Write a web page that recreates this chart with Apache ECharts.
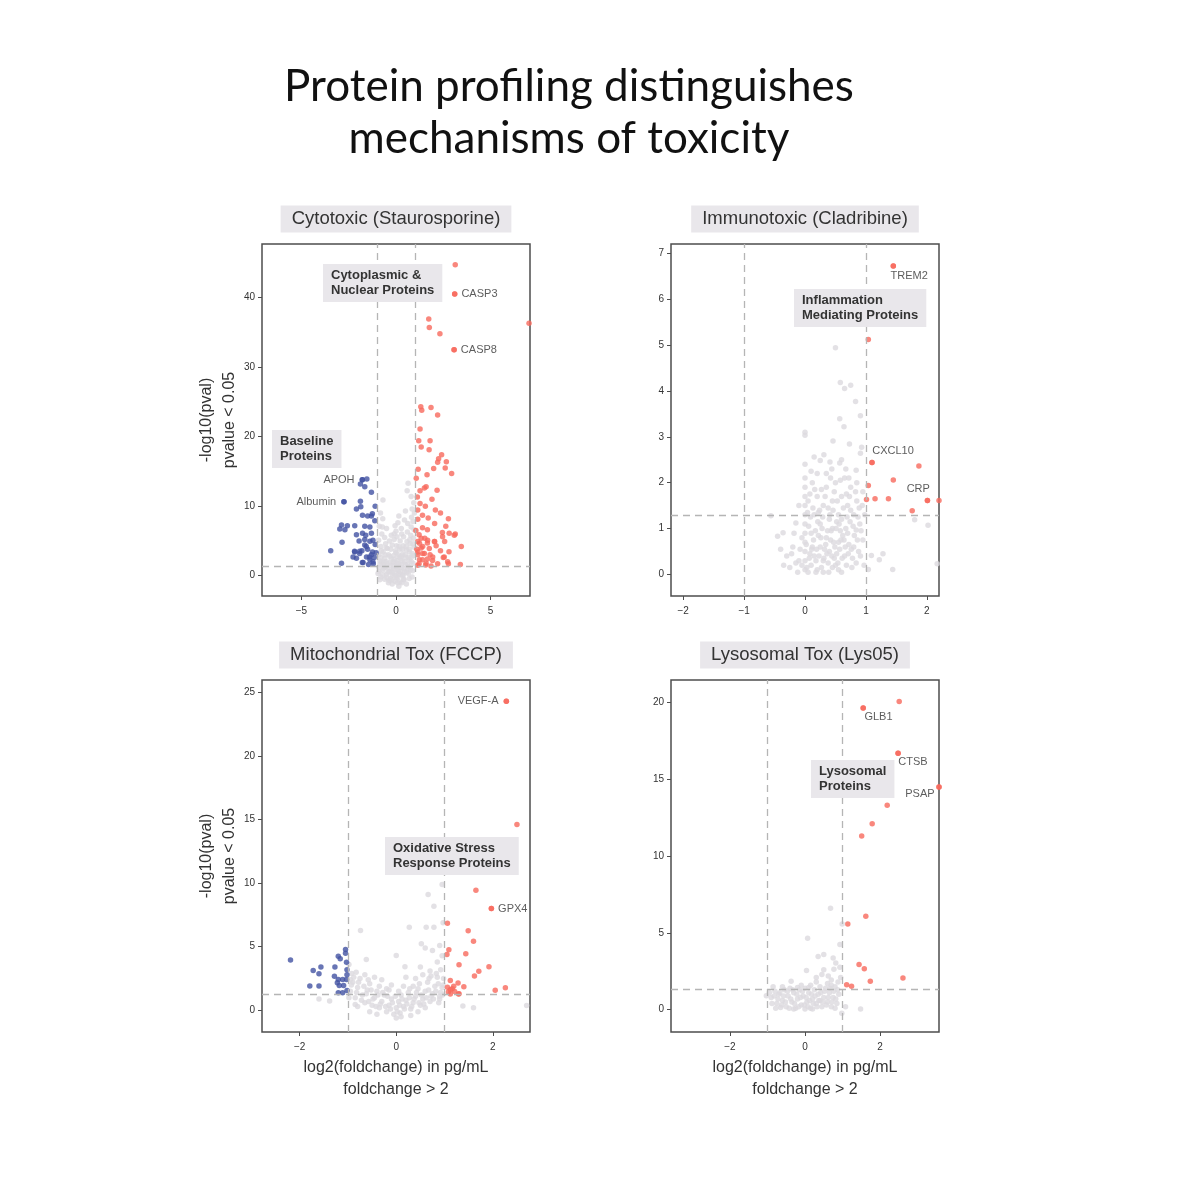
<!DOCTYPE html>
<html><head><meta charset="utf-8">
<script src="https://cdn.jsdelivr.net/npm/echarts@6/dist/echarts.min.js"></script>
<style>html,body{margin:0;padding:0;background:#fff}#c{width:1200px;height:1200px}</style>
</head><body><div id="c"></div>
<script>
// ---------------- DATA ----------------
const mainTitle = 'Protein profiling distinguishes\nmechanisms of toxicity';
const panelTitles = ['Cytotoxic (Staurosporine)', 'Immunotoxic (Cladribine)', 'Mitochondrial Tox (FCCP)', 'Lysosomal Tox (Lys05)'];
const groupNotes = [
  ['Cytoplasmic &\nNuclear Proteins', 'Baseline\nProteins'],
  ['Inflammation\nMediating Proteins'],
  ['Oxidative Stress\nResponse Proteins'],
  ['Lysosomal\nProteins']
];
const yTitle = '-log10(pval)\npvalue < 0.05';
const xTitle = 'log2(foldchange) in pg/mL\nfoldchange > 2';
const fcThreshold = 1;
const pThreshold = 1.3;

const p1XTicks = [-5, 0, 5];
const p1YTicks = [0, 10, 20, 30, 40];
const p2XTicks = [-2, -1, 0, 1, 2];
const p2YTicks = [0, 1, 2, 3, 4, 5, 6, 7];
const p3XTicks = [-2, 0, 2];
const p3YTicks = [0, 5, 10, 15, 20, 25];
const p4XTicks = [-2, 0, 2];
const p4YTicks = [0, 5, 10, 15, 20];

// Panel 1: Cytotoxic (Staurosporine)
const p1Up = [[3.13,44.7],[3.1,40.5],[7.03,36.3],[1.73,36.9],[1.76,35.7],[2.32,34.8],[3.07,32.5],[1.31,24.3],[1.36,23.8],[1.85,24.2],[2.2,23.1],[1.27,21.1],[1.2,19.4],[1.8,19.4],[1.33,18.5],[1.75,18.1],[2.41,17.4],[2.25,16.8],[2.2,16.3],[2.66,16.4],[1.17,15.3],[1.99,15.4],[2.6,15.5],[2.94,14.7],[1.07,14.0],[1.64,14.5],[1.59,12.8],[1.5,12.6],[1.27,12.2],[2.17,12.3],[1.13,11.3],[1.27,10.4],[1.55,10.0],[2.08,9.45],[1.15,9.45],[1.4,8.7],[1.7,8.3],[2.77,8.2],[1.15,8.1],[2.04,7.5],[2.63,7.1],[1.4,6.9],[1.66,6.6],[2.45,6.2],[3.13,6.0],[1.22,5.9],[1.52,5.4],[2.04,4.9],[2.57,4.9],[1.15,4.9],[1.66,4.7],[2.12,4.3],[3.45,4.2],[1.33,4.0],[2.8,3.45],[1.5,3.2],[1.8,3.0],[1.15,3.0],[2.5,2.6],[1.4,2.3],[1.93,2.2],[2.2,1.7],[2.77,1.7],[3.4,1.6],[1.22,1.7],[1.57,1.55],[1.66,2.4],[1.1,3.8],[1.33,5.4],[1.24,4.66],[1.67,5.1],[2.03,4.9],[2.46,5.6],[2.81,6.1],[3.08,5.8],[1.76,3.9],[1.41,3.2],[1.24,2.3],[1.59,1.8],[1.94,2.7],[2.55,2.7],[2.73,2.0],[1.15,3.4],[1.41,4.2],[1.15,1.5],[1.85,1.4],[2.35,3.6],[1.05,6.5],[1.9,11.0],[2.35,9.0]];
const p1Down = [[-1.54,13.9],[-1.78,13.8],[-1.88,13.2],[-1.65,12.8],[-1.3,12.0],[-2.75,10.65],[-1.88,10.7],[-1.1,10.0],[-1.86,9.9],[-2.09,9.6],[-1.5,8.6],[-1.77,8.7],[-1.3,8.6],[-1.12,7.9],[-2.88,7.3],[-2.57,7.2],[-2.97,6.7],[-2.7,6.6],[-2.18,7.2],[-1.65,7.1],[-1.38,7.0],[-2.09,5.9],[-1.77,6.1],[-1.3,6.1],[-2.85,4.8],[-1.65,5.2],[-1.38,4.95],[-2.18,3.4],[-3.45,3.6],[-1.8,3.6],[-1.5,3.8],[-1.24,3.4],[-2.09,2.5],[-1.56,2.7],[-1.38,2.3],[-2.88,1.8],[-1.78,1.9],[-1.2,1.7],[-1.65,4.4],[-1.92,3.2],[-1.3,3.0],[-1.22,5.1],[-1.57,4.2],[-1.92,3.5],[-1.4,2.7],[-1.22,2.0],[-1.74,1.9],[-2.19,3.5],[-2.27,2.7],[-1.1,4.5],[-1.15,2.6],[-1.45,1.6],[-1.05,3.3],[-1.6,5.8],[-1.95,5.0],[-1.25,8.9]];
const p1Gray = [[-0.95,0.3],[-0.9,1.2],[-0.85,2.1],[-0.9,3.0],[-0.8,4.2],[-0.92,5.1],[-0.75,6.0],[-0.88,7.1],[-0.7,8.2],[-0.69,10.9],[-0.72,7.0],[-0.7,0.8],[-0.65,1.6],[-0.6,2.5],[-0.68,3.4],[-0.55,4.6],[-0.6,5.5],[-0.5,0.2],[-0.45,1.1],[-0.5,2.0],[-0.4,3.0],[-0.45,3.9],[-0.35,0.6],[-0.3,1.5],[-0.25,2.4],[-0.3,-0.4],[-0.2,0.1],[-0.15,1.0],[-0.1,1.9],[-0.12,2.9],[-0.05,-0.8],[0,0.4],[0.02,1.3],[0.05,2.2],[0,3.3],[0.03,4.3],[0.1,-0.3],[0.12,0.8],[0.15,1.7],[0.18,2.7],[0.2,3.8],[0.22,5.0],[0.25,0.2],[0.3,1.2],[0.32,2.1],[0.35,3.1],[0.38,4.3],[0.4,5.6],[0.42,-0.6],[0.45,0.6],[0.5,1.6],[0.52,2.6],[0.55,3.7],[0.58,4.9],[0.6,6.3],[0.62,7.5],[0.59,12.2],[0.64,13.3],[0.8,11.4],[0.65,0.3],[0.68,1.3],[0.7,2.3],[0.72,3.4],[0.75,4.6],[0.78,5.8],[0.8,7.0],[0.82,8.4],[0.85,9.6],[0.88,0.7],[0.9,1.8],[0.92,2.9],[0.95,4.1],[0.93,5.4],[0.96,6.6],[0.9,7.8],[0.97,9.0],[0.94,10.5],[-0.2,-1.2],[0.3,-1.0],[-0.6,-0.5],[0.7,-0.4],[-0.8,-0.2],[0.15,-1.5],[-0.4,-1.0],[0.55,-1.2],[-0.1,5.2],[0,6.4],[0.1,7.6],[-0.2,4.4],[0.28,6.8],[-0.35,5.0],[0.45,8.0],[0.5,9.3],[-0.5,6.8],[-0.82,9.0],[0.15,0.3],[-0.25,0.7],[0.35,0,],[-0.55,1.3],[0.62,1.0],[-0.15,2.0],[0.25,2.5],[-0.75,1.9],[0.8,2.6],
  [-0.9,0.6],[-0.85,1.6],[-0.8,2.6],[-0.78,3.6],[-0.7,0.1],[-0.65,1.1],[-0.62,2.0],[-0.58,3.0],[-0.52,4.0],[-0.48,-0.3],[-0.42,0.5],[-0.38,1.8],[-0.33,2.8],[-0.28,3.8],[-0.22,-0.6],[-0.18,0.4],[-0.12,1.4],[-0.08,2.4],[-0.03,3.6],[0.02,-0.3],[0.06,0.9],[0.09,1.8],[0.12,3.0],[0.16,4.2],[0.2,-0.9],[0.24,0.6],[0.28,1.6],[0.3,2.8],[0.34,3.8],[0.38,0.1],[0.42,1.0],[0.46,2.0],[0.5,3.0],[0.54,4.2],[0.57,0.5],[0.61,1.6],[0.66,2.6],[0.7,3.8],[0.73,5.2],[0.77,0.9],[0.81,2.0],[0.86,3.2],[0.9,4.6],[-0.86,-0.6],[0.85,-0.2],[-0.05,0],[0.08,-1.0],[-0.35,-0.7],[0.4,-0.5],[-0.1,6.0],[0.05,5.6],[-0.25,5.8],[0.3,6.0],[0.15,8.6],[-0.05,7.2]];
const p1Labels = [['CASP3',3.1,40.5],['CASP8',3.07,32.5],['APOH',-1.78,13.8],['Albumin',-2.75,10.65]];

// Panel 2: Immunotoxic (Cladribine)
const p2Up = [[1.45,6.72],[1.04,5.12],[1.1,2.44],[1.87,2.36],[1.45,2.06],[1.04,1.94],[1.01,1.63],[1.15,1.65],[1.37,1.65],[2.01,1.61],[2.2,1.61],[1.76,1.39]];
const p2Down = [];
const p2Gray = [[0,0.1],[0,0.3],[0,0.5],[0,0.7],[0,0.9],[0,1.1],[0,1.3],[0,1.5],[0,1.7],[0,1.9],[0,2.1],[0,2.4],[0,3.03],[0,3.1],[0.5,4.94],[0.58,4.18],[0.75,4.12],[0.65,4.05],[0.83,3.77],[0.57,3.39],[0.91,3.46],[0.64,3.22],[0.46,2.91],[0.73,2.84],[0.93,2.77],[0.91,2.64],[0.31,2.61],[0.15,2.56],[0.41,2.45],[0.57,2.43],[0.67,2.3],[0.84,2.27],[0.25,2.48],[-0.45,0.83],[-0.36,0.91],[-0.56,1.28],[-0.15,1.12],[1.8,1.19],[2.02,1.07],[2.17,0.23],[1.44,0.11],[1.04,0.11],[1.28,0.45],[1.09,0.41],[1.22,0.32],[0.84,0.97],[0.05,0.05],[0.1,0.2],[0.15,0.4],[0.2,0.1],[0.25,0.6],[0.3,0.3],[0.35,0.8],[0.4,0.5],[0.45,1.0],[0.5,0.2],[0.55,0.7],[0.6,1.2],[0.65,0.4],[0.7,0.9],[0.75,1.4],[0.8,0.6],[0.85,1.6],[0.9,1.1],[0.95,1.8],[0.1,0.9],[0.15,1.3],[0.2,1.7],[0.25,1.1],[0.3,1.5],[0.35,1.9],[0.4,1.2],[0.45,1.6],[0.5,2.0],[0.55,1.3],[0.6,1.7],[0.65,2.1],[0.7,1.5],[0.75,1.9],[0.8,1.3],[0.85,2.0],[0.3,0.05],[0.45,0.15],[0.6,0.05],[0.12,0.6],[0.22,0.85],[0.38,0.25],[0.52,0.45],[0.68,0.2],[0.78,0.35],[0.88,0.5],[0.95,0.75],[-0.1,0.3],[-0.2,0.6],[-0.3,0.4],[-0.05,0.8],[-0.25,0.15],[-0.1,1.5],[0.05,1.6],[0.12,2.0],[0.2,2.2],[0.35,2.2],[0.48,1.8],[0.62,0.85],[0.72,0.65],[0.42,0.75],[0.28,1.0],[0.18,0.3],[0.08,0.45],[0.98,1.3],[0.97,0.2],[0.92,0.95],[0.32,0.55],[0.48,0.35],[0.58,0.95],[0.22,1.35],[0.38,1.45],[0.52,1.15],[0.68,1.75],[0.18,0.05],[0.55,0.1],[-0.05,0.2],
  [0.03,0.15],[0.07,0.35],[0.11,0.55],[0.14,0.75],[0.17,0.95],[0.21,1.15],[0.24,1.4],[0.27,0.15],[0.31,0.35],[0.34,0.65],[0.37,0.95],[0.41,1.3],[0.44,0.4],[0.47,0.7],[0.51,1.0],[0.54,0.25],[0.57,0.55],[0.61,0.35],[0.64,0.75],[0.67,1.0],[0.71,0.45],[0.74,1.15],[0.77,0.15],[0.81,0.85],[0.84,0.25],[0.87,1.25],[0.91,0.4],[0.94,1.5],[0.06,1.05],[0.09,1.25],[0.13,1.45],[0.16,1.85],[0.19,0.55],[0.23,0.4],[0.26,0.8],[0.29,1.25],[0.33,1.7],[0.36,0.45],[0.39,0.05],[0.43,0.95],[0.46,1.4],[0.49,0.6],[0.53,1.6],[0.56,1.1],[0.59,0.75],[0.63,1.45],[0.66,0.6],[0.69,1.25],[0.73,1.7],[0.76,0.55],[0.79,1.05],[0.83,1.8],[0.86,0.75],[0.89,1.45],[-0.08,0.55],[-0.15,0.25],[-0.18,0.9],[-0.22,0.45],[-0.35,0.2],[-0.4,0.55],[-0.12,0.05],[0.02,0.65],[0.04,1.35],[0.08,1.75],[0.1,2.25],[0.27,1.85],[0.42,2.1],[0.58,2.05],[0.72,2.1],[0.44,2.3],[0.6,2.5]];
const p2Labels = [['TREM2',1.45,6.72],['CXCL10',1.1,2.44],['CRP',2.01,1.61]];

// Panel 3: Mitochondrial Tox (FCCP)
const p3Up = [[2.28,24.3],[2.5,14.6],[1.65,9.44],[1.97,8.0],[1.06,6.85],[1.49,6.25],[1.6,5.44],[1.09,4.76],[1.05,4.39],[1.44,4.45],[1.3,3.58],[1.92,3.43],[1.71,3.07],[1.62,2.71],[1.12,2.35],[1.28,2.16],[1.19,1.9],[1.06,1.82],[1.4,1.85],[1.12,1.62],[1.21,1.49],[1.29,1.28],[1.12,1.28],[2.05,1.59],[2.26,1.78],[1.3,1.31],[1.16,1.7],[1.08,1.45]];
const p3Down = [[-2.19,3.95],[-1.72,3.14],[-1.56,3.4],[-1.6,2.87],[-1.79,1.91],[-1.6,1.91],[-1.27,3.4],[-1.28,2.69],[-1.2,4.26],[-1.16,4.05],[-1.05,4.78],[-1.05,4.49],[-1.03,3.78],[-1.2,2.43],[-1.11,2.43],[-1.03,2.43],[-1.18,1.96],[-1.09,1.96],[-1.02,2.8],[-1.2,1.39],[-1.11,1.39],[-1.02,1.57],[-1.22,2.17],[-1.02,3.2]];
const p3Gray = [[-0.95,1.5],[-0.9,2.2],[-0.92,2.9],[-0.85,1.0],[-0.8,1.8],[-0.75,2.5],[-0.7,1.2],[-0.65,0.6],[-0.6,1.6],[-0.55,2.1],[-0.5,0.4],[-0.45,1.0],[-0.4,1.5],[-0.35,0.2],[-0.3,0.7],[-0.25,1.2],[-0.2,-0.1],[-0.15,0.4],[-0.1,0.9],[-0.05,-0.3],[0,0.2],[0.05,0.7],[0.1,1.2],[0.08,-0.2],[0.15,0.3],[0.2,0.8],[0.25,1.4],[0.3,0.1],[0.35,0.6],[0.4,1.1],[0.45,1.7],[0.5,0.4],[0.55,0.9],[0.6,1.5],[0.65,2.2],[0.7,0.7],[0.75,1.3],[0.8,1.9],[0.85,2.6],[0.9,1.1],[0.95,1.8],[0.98,2.5],[0.92,3.2],[0.88,0.6],[-0.98,3.6],[-0.62,4.0],[-0.74,6.27],[0,4.31],[0.18,3.43],[0.27,6.53],[0.52,5.23],[0.66,9.1],[0.95,9.9],[0.78,8.18],[0.97,6.88],[0.62,6.53],[0.78,6.53],[0.6,4.9],[0.75,4.7],[0.9,5.1],[0.7,3.1],[0.55,2.8],[0.4,2.5],[0.85,3.8],[-1.38,0.73],[-1.6,0.9],[-0.85,0.47],[1.38,0.34],[1.6,0.2],[2.7,0.39],[-0.3,2.4],[-0.1,2.0],[0.1,-0.5],[-0.4,-0.3],[0.3,-0.4],[0,-0.6],[-0.65,2.8],[0.35,1.9],[0.2,2.6],[-0.8,0.3],[-0.55,-0.1],[0.6,0.2],[0.45,-0.1],[-0.2,1.7],[0.15,1.9],[0.72,2.7],[0.95,4.3],[-0.45,2.6],[0.5,3.4],
  [-0.98,1.0],[-0.93,2.0],[-0.88,2.6],[-0.82,1.4],[-0.78,2.2],[-0.72,0.8],[-0.67,1.9],[-0.62,1.3],[-0.57,0.7],[-0.52,1.6],[-0.48,0.9],[-0.42,0.3],[-0.38,1.2],[-0.33,0.5],[-0.28,1.4],[-0.22,0.3],[-0.18,1.1],[-0.12,0.1],[-0.08,0.6],[-0.02,1.1],[0.02,-0.1],[0.07,0.4],[0.12,0.9],[0.17,0.1],[0.22,0.5],[0.27,1.0],[0.32,0.3],[0.37,0.9],[0.42,1.4],[0.47,0.6],[0.52,1.2],[0.57,0.5],[0.62,1.0],[0.67,1.6],[0.72,1.1],[0.77,0.9],[0.82,1.5],[0.87,2.1],[0.92,1.4],[0.97,2.0],[0.83,2.9],[0.68,2.5],[0.48,2.1],[0.28,1.7],[0.05,1.5],[-0.15,1.6],[-0.35,1.9],[-0.58,2.4],[-0.83,3.0],[0.9,0.9],[0.96,1.2],[-0.95,2.4]];
const p3Labels = [['VEGF-A',2.28,24.3],['GPX4',1.97,8.0]];

// Panel 4: Lysosomal Tox (Lys05)
const p4Up = [[2.51,20.06],[1.55,19.63],[2.48,16.69],[3.57,14.5],[2.19,13.3],[1.79,12.1],[1.51,11.3],[1.62,6.08],[1.14,5.58],[1.44,2.94],[1.58,2.66],[1.74,1.86],[2.61,2.06],[1.11,1.63],[1.24,1.52]];
const p4Down = [];
const p4Gray = [[0.68,6.6],[0.99,5.58],[0.07,4.65],[0.93,4.25],[0.5,3.59],[0.35,3.46],[0.75,3.37],[0.82,3.04],[0.5,2.6],[0.77,2.63],[0.04,2.56],[0.93,2.76],[0.3,2.1],[0.7,1.94],[0.95,2.1],[-0.37,1.85],[-1.03,0.91],[1.08,0.19],[1.48,0.05],[0.98,-0.23],[-0.9,0.8],[-0.8,1.2],[-0.75,0.4],[-0.7,1.0],[-0.6,0.6],[-0.55,1.3],[-0.5,0.2],[-0.45,0.9],[-0.4,1.4],[-0.35,0.5],[-0.3,1.1],[-0.25,0.1],[-0.2,0.7],[-0.15,1.3],[-0.1,0.3],[-0.05,0.9],[0,1.4],[0.05,0.5],[0.1,1.1],[0.15,0.1],[0.2,0.7],[0.25,1.3],[0.3,0.4],[0.35,1.0],[0.4,1.5],[0.45,0.2],[0.5,0.8],[0.55,1.4],[0.6,0.5],[0.65,1.1],[0.7,0.2],[0.75,0.8],[0.8,1.5],[0.85,0.4],[0.9,1.0],[-0.65,0.15],[-0.3,0.05],[0.2,0.05],[0,0.05],[0.4,0.6],[0.6,1.7],[0.3,1.8],[0.15,1.6],[-0.1,1.6],[0.45,2.3],[0.62,2.2],[0.88,1.8],[0.8,0.1],[-0.85,1.5],[-0.95,1.1],
  [-0.88,0.4],[-0.82,0.9],[-0.78,0.1],[-0.72,0.7],[-0.67,1.1],[-0.62,0.3],[-0.57,0.9],[-0.52,0.5],[-0.47,1.2],[-0.42,0.1],[-0.38,0.7],[-0.33,1.3],[-0.28,0.4],[-0.22,1.0],[-0.17,0.2],[-0.12,0.8],[-0.07,1.2],[-0.02,0.3],[0.03,0.8],[0.08,0.2],[0.12,0.6],[0.17,1.0],[0.22,0.4],[0.27,0.9],[0.32,0.2],[0.37,0.6],[0.42,1.1],[0.47,0.5],[0.52,1.2],[0.57,0.3],[0.62,0.8],[0.67,1.4],[0.72,0.5],[0.77,1.2],[0.82,0.7],[0.87,1.3],[-0.6,1.5],[-0.2,1.45],[0.1,1.45],[0.7,1.6]];
const p4Labels = [['GLB1',1.55,19.63],['CTSB',2.48,16.69],['PSAP',3.57,14.5]];

// ---------------- LAYOUT / STYLE ----------------
const RED = '#F8695C', BLUE = '#4253A3', GRAY = '#DCDADF', INK = '#333333', FRAME = '#4d4d4d';
const FONT = '"Liberation Sans", Arial, sans-serif';
const panels = [
  {gray:p1Gray, up:p1Up, down:p1Down, labels:p1Labels, xt:p1XTicks, yt:p1YTicks, xr:[-7.08,7.08], yr:[-2.92,47.7], left:262, top:244},
  {gray:p2Gray, up:p2Up, down:p2Down, labels:p2Labels, xt:p2XTicks, yt:p2YTicks, xr:[-2.2,2.2], yr:[-0.47,7.2], left:671, top:244},
  {gray:p3Gray, up:p3Up, down:p3Down, labels:p3Labels, xt:p3XTicks, yt:p3YTicks, xr:[-2.78,2.77], yr:[-1.7,25.96], left:262, top:680},
  {gray:p4Gray, up:p4Up, down:p4Down, labels:p4Labels, xt:p4XTicks, yt:p4YTicks, xr:[-3.57,3.57], yr:[-1.45,21.46], left:671, top:680}
];
const W = 268, H = 352, DOT = 5.5;
const labelPlace = {
  CASP3:{position:'right', distance:4}, CASP8:{position:'right', distance:4},
  APOH:{position:'left', distance:5}, Albumin:{position:'left', distance:5},
  TREM2:{position:[0,7]}, CXCL10:{position:[3,-14]}, CRP:{position:[-18,-14]},
  'VEGF-A':{position:'left', distance:5}, GPX4:{position:'right', distance:4},
  GLB1:{position:[4,6]}, CTSB:{position:[3,6]}, PSAP:{position:[-31,4]}
};
const notePos = [[[323,264],[272,430]], [[794,289]], [[385,837]], [[811,760]]];
const minus = v => String(v).replace('-', '\u2212');

const grid = [], xAxis = [], yAxis = [], series = [], graphic = [];
panels.forEach((p, i) => {
  grid.push({left:p.left, top:p.top, width:W, height:H, show:true, borderColor:FRAME, borderWidth:1.5, backgroundColor:'#fff'});
  xAxis.push({type:'value', gridIndex:i, min:p.xr[0], max:p.xr[1], splitLine:{show:false},
    axisLine:{show:false, onZero:false}, axisTick:{show:true, length:4, lineStyle:{color:FRAME, width:1}, customValues:p.xt},
    axisLabel:{fontSize:10, color:INK, fontFamily:FONT, margin:10, customValues:p.xt, formatter:minus}});
  yAxis.push({type:'value', gridIndex:i, min:p.yr[0], max:p.yr[1], splitLine:{show:false},
    axisLine:{show:false, onZero:false}, axisTick:{show:true, length:4, lineStyle:{color:FRAME, width:1}, customValues:p.yt},
    axisLabel:{fontSize:10, color:INK, fontFamily:FONT, margin:7, customValues:p.yt, formatter:minus}});
  series.push({type:'scatter', xAxisIndex:i, yAxisIndex:i, data:p.gray, symbolSize:DOT, itemStyle:{color:GRAY}, silent:true, z:2,
    markLine:{silent:true, symbol:'none', label:{show:false}, animation:false,
      lineStyle:{color:'#b5b5b5', type:[7,5], width:1.3},
      data:[{xAxis:-fcThreshold},{xAxis:fcThreshold},{yAxis:pThreshold}]}});
  series.push({type:'scatter', xAxisIndex:i, yAxisIndex:i, data:p.down, symbolSize:DOT, itemStyle:{color:BLUE}, silent:true, z:3});
  series.push({type:'scatter', xAxisIndex:i, yAxisIndex:i, data:p.up, symbolSize:DOT, itemStyle:{color:RED}, silent:true, z:3});
  series.push({type:'scatter', xAxisIndex:i, yAxisIndex:i, symbolSize:DOT, silent:true, z:4,
    data:p.labels.map(([n,x,y]) => ({name:n, value:[x,y], itemStyle:{color:x>0?RED:BLUE},
      label:Object.assign({show:true, formatter:n, fontSize:11, color:INK, fontFamily:FONT}, labelPlace[n])}))});
  // strip title
  graphic.push({type:'text', x:p.left + W/2, y:p.top - 25, z:10, style:{text:panelTitles[i], font:'18.5px '+FONT, fill:INK,
    align:'center', verticalAlign:'middle', backgroundColor:'#E9E7EB', padding:[4,11,4,11]}});
  // group notes
  groupNotes[i].forEach((t, k) => {
    graphic.push({type:'text', x:notePos[i][k][0], y:notePos[i][k][1], z:10, style:{text:t, font:'bold 13px '+FONT, fill:INK,
      align:'left', verticalAlign:'top', lineHeight:15, backgroundColor:'#E9E7EB', padding:[4,8,4,8]}});
  });
});
// axis titles
[0,2].forEach(i => {
  const p = panels[i];
  graphic.push({type:'text', x:218, y:p.top + H/2, rotation:Math.PI/2, z:10,
    style:{text:yTitle, font:'16px '+FONT, fill:INK, align:'center', verticalAlign:'middle', lineHeight:23}});
});
[2,3].forEach(i => {
  const p = panels[i];
  graphic.push({type:'text', x:p.left + W/2, y:1079, z:10,
    style:{text:xTitle, font:'16px '+FONT, fill:INK, align:'center', verticalAlign:'middle', lineHeight:22}});
});
graphic.push({type:'text', x:569, y:113, z:10, style:{text:mainTitle, font:'44px Lato, "Open Sans", sans-serif', fill:'#111',
  align:'center', verticalAlign:'middle', lineHeight:52}});

const chart = echarts.init(document.getElementById('c'), null, {renderer:'canvas'});
chart.setOption({backgroundColor:'#fff', animation:false, grid, xAxis, yAxis, series, graphic});
</script></body></html>
